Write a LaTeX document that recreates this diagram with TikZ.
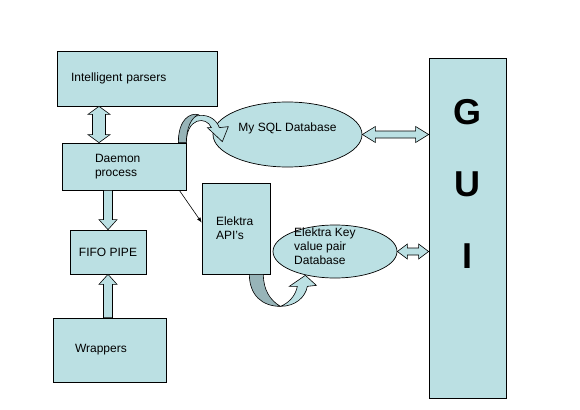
\documentclass[tikz,border=0pt]{standalone}
\usepackage{fontspec}
\setmainfont{Liberation Sans}
\usetikzlibrary{arrows.meta,calc,shapes.geometric}
\definecolor{boxblue}{HTML}{BBE0E3}
\definecolor{bandshade}{HTML}{97B4B8}

% block arrow with a head at both ends: from, to, half shaft, half head, head length
\newcommand{\fatdouble}[5]{%
  \coordinate (fa) at #1;
  \coordinate (fb) at #2;
  \coordinate (ha) at ($(fa)!#5!(fb)$);
  \coordinate (hb) at ($(fb)!#5!(fa)$);
  \filldraw[fatarrow] (fa) -- ($(ha)!#4!90:(fb)$) -- ($(ha)!#3!90:(fb)$)
    -- ($(hb)!#3!-90:(fa)$) -- ($(hb)!#4!-90:(fa)$) -- (fb)
    -- ($(hb)!#4!90:(fa)$) -- ($(hb)!#3!90:(fa)$)
    -- ($(ha)!#3!-90:(fb)$) -- ($(ha)!#4!-90:(fb)$) -- cycle;}
% block arrow with one head
\newcommand{\fatsingle}[5]{%
  \coordinate (fa) at #1;
  \coordinate (fb) at #2;
  \coordinate (hb) at ($(fb)!#5!(fa)$);
  \filldraw[fatarrow] ($(fa)!#3!90:(fb)$) -- ($(hb)!#3!-90:(fa)$)
    -- ($(hb)!#4!-90:(fa)$) -- (fb) -- ($(hb)!#4!90:(fa)$)
    -- ($(hb)!#3!90:(fa)$) -- ($(fa)!#3!-90:(fb)$) -- cycle;}

\begin{document}
\begin{tikzpicture}[x=1pt, y=-1pt,
  box/.style={draw, fill=boxblue, line width=0.7pt, inner ysep=0pt,
    font=\fontsize{12}{14}\selectfont},
  db/.style={ellipse, draw, fill=boxblue, line width=0.7pt, inner sep=0pt},
  fatarrow/.style={fill=boxblue, draw, line width=0.6pt, line join=miter},
  band/.style={fill=boxblue, draw, line width=0.6pt},
  bandback/.style={fill=bandshade, draw, line width=0.6pt}]
\useasboundingbox (0,0) rectangle (580,409);

% boxes
\node[box, minimum width=160, minimum height=55, text width=132, inner xsep=14, align=left]
  (parsers) at (137,78.5) {Intelligent parsers};
\node[box, minimum width=124, minimum height=47, text width=58, inner xsep=33, align=left]
  (daemon) at (124,166.5) {Daemon\\process};
\node[box, minimum width=76, minimum height=44, inner xsep=0pt]
  (fifo) at (108,252) {FIFO PIPE};
\node[box, minimum width=113, minimum height=64, text width=69, inner xsep=22, align=left]
  (wrappers) at (109.5,350) {Wrappers};
\node[box, minimum width=68, minimum height=91, text width=40, inner xsep=14, align=left]
  (api) at (236,228.5) {Elektra\\API’s};
\node[box, minimum width=77, minimum height=340] (gui) at (467.5,228) {};
\node[anchor=north, align=center, inner sep=0pt, font=\fontsize{36}{72}\selectfont\bfseries]
  (guitext) at ([yshift=-42pt]gui.north) {G\\U\\I};

% databases
\node[db, minimum width=149, minimum height=65,
  label={[yshift=6pt, font=\fontsize{12}{14}\selectfont]center:My SQL Database}]
  (sqldb) at (287.5,134.5) {};
\node[db, minimum width=124, minimum height=53] (kvdb) at (335,251.5) {};
\node[anchor=west, align=left, inner sep=0pt, font=\fontsize{12}{14}\selectfont]
  (kvtext) at ([xshift=-41pt, yshift=5.5pt]kvdb.center) {Elektra Key\\value pair\\Database};

% block arrows
\fatdouble{([xshift=-38pt]parsers.south)}{([xshift=-25pt]daemon.north)}{6.5pt}{11pt}{8pt}
\fatsingle{(fifo.north |- daemon.south)}{(fifo.north)}{4.5pt}{9pt}{10pt}
\fatsingle{(fifo.south |- wrappers.north)}{(fifo.south)}{4.5pt}{9pt}{10pt}
\fatdouble{(sqldb.east)}{(sqldb.east -| gui.west)}{3.5pt}{8pt}{13pt}
\fatdouble{(kvdb.east)}{(kvdb.east -| gui.west)}{3.5pt}{7.5pt}{10pt}

% plain arrow to the API box
\draw[line width=0.6pt, -{Latex[length=5pt, width=4pt]}]
  ([xshift=-7pt]daemon.south east) -- ([yshift=6pt]api.west);

% curved arrow daemon -> MySQL
\begin{scope}[shift={(daemon.north east)}]
  \filldraw[band] (-8,0) .. controls (-8,-31) and (26,-35) .. (33,-15) -- (42,-16)
    -- (36,-1) -- (21,-15) -- (25,-15) .. controls (20,-27) and (0,-25) .. (0,0) -- cycle;
  \filldraw[bandback] (-8,0) .. controls (-8,-24) and (4,-30) .. (12,-28)
    .. controls (5,-25) and (0,-15) .. (0,0) -- cycle;
\end{scope}

% curved arrow API -> key value database
\begin{scope}[shift={(api.south east)}]
  \filldraw[bandback] (-21,0) .. controls (-21,21) and (-8,32) .. (10,32)
    .. controls (0,26) and (-7,16) .. (-7,0) -- cycle;
  \filldraw[band] (10,32) .. controls (25,32) and (35,23) .. (37,12) -- (46,11)
    -- (35,1) -- (19,12) -- (27,12) .. controls (25,22) and (18,29) .. (10,32) -- cycle;
\end{scope}
\end{tikzpicture}
\end{document}
